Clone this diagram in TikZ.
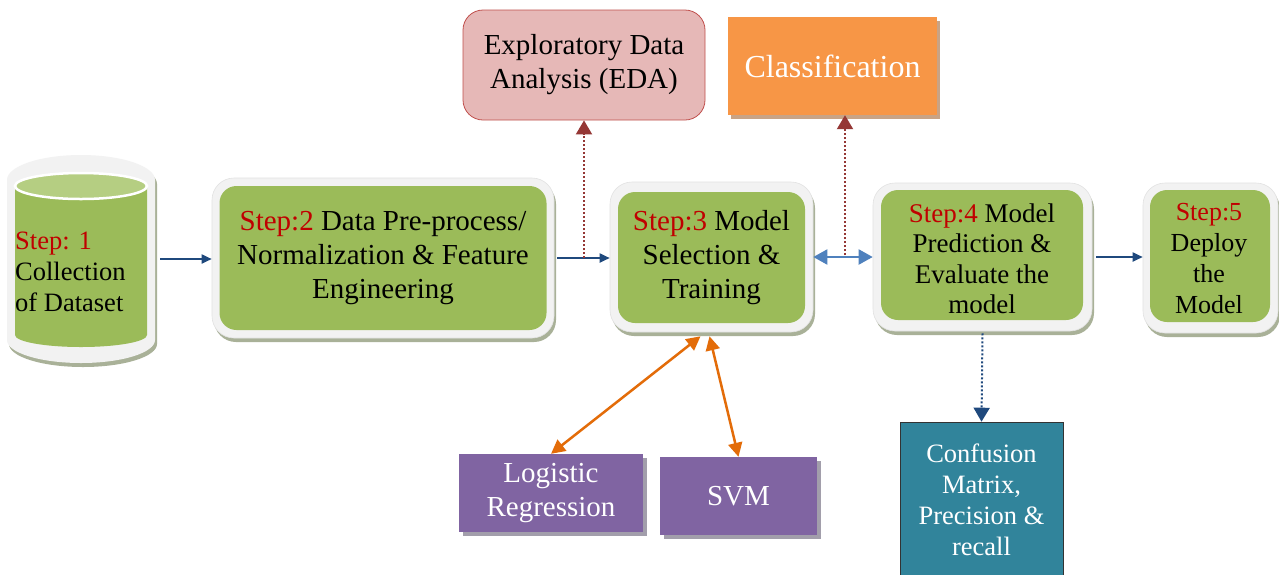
\documentclass[tikz,border=0pt]{standalone}
\usepackage{fontspec}
\setmainfont{Liberation Serif}
\usetikzlibrary{arrows.meta,shadows,calc}

\definecolor{stepgreen}{HTML}{9BBB59}
\definecolor{capgreen}{HTML}{B5CE82}
\definecolor{ringgray}{HTML}{F2F2F2}
\definecolor{ringedge}{HTML}{E2E2E2}
\definecolor{ringshadow}{HTML}{A9B198}
\definecolor{stepred}{HTML}{C00000}
\definecolor{navy}{HTML}{1F497D}
\definecolor{lightblue}{HTML}{4F81BD}
\definecolor{darkred}{HTML}{953735}
\definecolor{edapink}{HTML}{E6B8B7}
\definecolor{edaedge}{HTML}{C0504D}
\definecolor{classorange}{HTML}{F79646}
\definecolor{classshadow}{HTML}{C9A385}
\definecolor{algpurple}{HTML}{8064A2}
\definecolor{algshadow}{HTML}{A29EAB}
\definecolor{evalteal}{HTML}{31849B}
\definecolor{arrorange}{HTML}{E36C09}

\newcommand{\stp}[1]{\textcolor{stepred}{#1}}

\tikzset{
  ring/.style={rounded corners=22pt, fill=ringgray, draw=ringedge, line width=0.6pt,
    drop shadow={shadow xshift=2pt, shadow yshift=-4pt, fill=ringshadow, opacity=1}},
  greenbox/.style={rounded corners=17pt, fill=stepgreen, align=center, inner sep=0pt},
  flowarrow/.style={navy, line width=1.8pt, -{Triangle[length=10pt,width=9pt]}},
  linkarrow/.style={lightblue, line width=2pt, {Triangle[length=14pt,width=15pt]}-{Triangle[length=14pt,width=15pt]}},
  uparrow/.style={darkred, line width=2pt, dotted, -{Triangle[length=14pt,width=16pt]}},
  downarrow/.style={navy, line width=2pt, dotted, -{Triangle[length=14pt,width=16pt]}},
  algarrow/.style={arrorange, line width=2.5pt, {Triangle[length=14pt,width=14pt]}-{Triangle[length=14pt,width=14pt]}},
  algbox/.style={fill=algpurple, text=white, align=center, inner sep=0pt,
    drop shadow={shadow xshift=4pt, shadow yshift=-4pt, fill=algshadow, opacity=1}},
}

\begin{document}
\begin{tikzpicture}[x=1pt,y=-1pt]
\useasboundingbox[fill=white] (0,0) rectangle (1279,574);

% ---- Step 1: dataset cylinder ----
\fill[ringshadow, shift={(2,4)}] (7,180) -- (7,340) arc[start angle=180,end angle=360,x radius=74pt,y radius=23pt]
  -- (155,180) arc[start angle=0,end angle=180,x radius=74pt,y radius=25pt] -- cycle;
\fill[ringgray] (7,180) -- (7,340) arc[start angle=180,end angle=360,x radius=74pt,y radius=23pt]
  -- (155,180) arc[start angle=0,end angle=180,x radius=74pt,y radius=25pt] -- cycle;
\fill[stepgreen] (15,186) -- (15,335) arc[start angle=180,end angle=360,x radius=66pt,y radius=12pt]
  -- (147,186) -- cycle;
\filldraw[fill=capgreen, draw=white, line width=2.5pt] (81,186) ellipse[x radius=66pt, y radius=13pt];
\node[minimum width=148pt, minimum height=208pt, inner sep=0pt] (cyl) at (81,259) {};
\node[anchor=west, align=left, inner sep=0pt, font=\fontsize{26.5}{31}\selectfont] (c1) at (15,272)
  {\stp{Step: 1}\\Collection\\of Dataset};

% ---- Step 2 ----
\node[ring, minimum width=342pt, minimum height=160pt] (s2o) at (383,258) {};
\node[greenbox, minimum width=327pt, minimum height=144pt, font=\fontsize{29}{34}\selectfont] (s2) at (383,258)
  {\stp{Step:2} Data Pre-process/\\Normalization \& Feature\\Engineering};

% ---- Step 3 ----
\node[ring, minimum width=203pt, minimum height=150pt] (s3o) at (711.5,257) {};
\node[greenbox, minimum width=187pt, minimum height=131pt, font=\fontsize{29}{34}\selectfont] (s3) at (711.5,257.5)
  {\stp{Step:3} Model\\Selection \&\\Training};

% ---- Step 4 ----
\node[ring, minimum width=219pt, minimum height=148pt] (s4o) at (982.5,257) {};
\node[greenbox, minimum width=202pt, minimum height=130pt] (s4) at (982,255) {};
\node[align=center, inner sep=0pt, font=\fontsize{27}{30.5}\selectfont] (s4t) at (982,259)
  {\stp{Step:4} Model\\Prediction \&\\Evaluate the\\model};

% ---- Step 5 ----
\node[ring, minimum width=135pt, minimum height=150pt] (s5o) at (1210.5,258) {};
\node[greenbox, minimum width=120pt, minimum height=132pt] (s5) at (1210,256) {};
\node[align=center, inner sep=0pt, font=\fontsize{26}{31}\selectfont] (s5t) at (1209,259)
  {\stp{Step:5}\\Deploy\\the\\Model};

% ---- side boxes ----
\node[rounded corners=20pt, fill=edapink, draw=edaedge, line width=0.8pt, minimum width=242pt, minimum height=110pt,
  align=center, inner sep=0pt, font=\fontsize{29}{34}\selectfont] (eda) at (584,65)
  {Exploratory Data\\Analysis (EDA)};
\node[fill=classorange, minimum width=209pt, minimum height=98pt, inner sep=0pt, text=white,
  font=\fontsize{32}{36}\selectfont,
  drop shadow={shadow xshift=3pt, shadow yshift=-4pt, fill=classshadow, opacity=1}] (cls) at (832.5,66)
  {Classification};
\node[algbox, minimum width=184pt, minimum height=78pt, font=\fontsize{29}{34}\selectfont] (lr) at (551,493)
  {Logistic\\Regression};
\node[algbox, minimum width=157pt, minimum height=78pt, font=\fontsize{29}{34}\selectfont] (svm) at (738.5,496)
  {SVM};
\node[fill=evalteal, draw=black!80, line width=0.6pt, minimum width=163pt, minimum height=170pt,
  align=center, inner sep=0pt, text=white, font=\fontsize{26.5}{31}\selectfont] (cm) at (981.5,507)
  {};
\node[align=center, inner sep=0pt, text=white, font=\fontsize{26.5}{31}\selectfont] (cmt) at (981.5,500)
  {Confusion\\Matrix,\\Precision \&\\recall};

% ---- connectors ----
\draw[flowarrow] ([xshift=5pt]cyl.east) -- (s2o.west |- cyl.east);
\draw[flowarrow] ([xshift=3pt]s2o.east) -- (s3o.west |- s2o.east);
\coordinate (j1) at (584,258);
\draw[uparrow] (j1) -- (j1 |- eda.south);
\draw[linkarrow] (s3o.east) -- (s4o.west |- s3o.east);
\coordinate (j2) at (845,255);
\draw[uparrow] (j2) -- (j2 |- cls.south);
\draw[flowarrow] ([xshift=4pt]s4o.east) -- (s5o.west |- s4o.east);
\draw[downarrow] ([yshift=-2pt]s4o.south) -- (cm.north);
\draw[algarrow] (lr.north) -- ([xshift=-11pt,yshift=-4pt]s3o.south);
\draw[algarrow] (svm.north) -- ([xshift=-2pt,yshift=-4pt]s3o.south);
\end{tikzpicture}
\end{document}
